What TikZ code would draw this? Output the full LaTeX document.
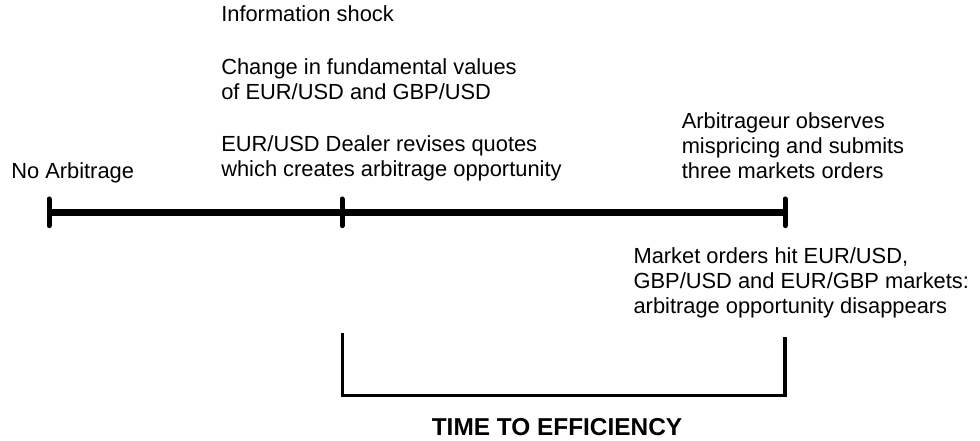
\documentclass[tikz,border=0pt]{standalone}
\usepackage{fontspec}
\setmainfont{Liberation Sans}
\usetikzlibrary{positioning}

\begin{document}
\begin{tikzpicture}[x=0.75pt,y=-0.75pt,
  txt/.style={anchor=base west,inner sep=0pt,align=left,font=\fontsize{16.4}{18.75}\selectfont},
  timeline/.style={line width=5.6pt},
  tickmark/.style={line width=3.75pt,line cap=round},
  span/.style={line width=2.5pt}]
  \useasboundingbox (0,0) rectangle (980,441);

  % the time axis and its three events
  \coordinate (t0) at (49,212.3);
  \coordinate (t1) at (342,212.3);
  \coordinate (t2) at (785,212.3);
  \draw[timeline] (t0) -- (t2);
  \foreach \t in {t0,t1,t2}
    \draw[tickmark] ([yshift=10pt]\t) -- ([yshift=-10pt]\t);

  % labels sit on the baseline of their last line
  \node[txt] (noarb) at (11,178.3) {No Arbitrage};
  \node[txt] (shock) at (221,21.7) {Information shock};
  \node[txt] (fund) at (221,100) {Change in fundamental values\\of EUR/USD and GBP/USD};
  \node[txt] (dealer) at (221,176.7) {EUR/USD Dealer revises quotes\\which creates arbitrage opportunity};
  \node[txt] (observe) at (681.5,178.3) {Arbitrageur observes\\mispricing and submits\\three markets orders};
  \node[txt] (hit) at (633.3,313.3) {Market orders hit EUR/USD,\\GBP/USD and EUR/GBP markets:\\arbitrage opportunity disappears};

  % bracket under the delay
  \coordinate (s0) at (342.7,333);
  \coordinate (s1) at (785,337.3);
  \coordinate (b0) at (342.7,395.5);
  \coordinate (b1) at (785,395.5);
  \draw[span] (s0) -- (b0) -- (b1) -- (s1);
  \node[anchor=base,inner sep=0pt,font=\fontsize{18.3}{22}\selectfont\bfseries] (eff) at (557,435) {TIME TO EFFICIENCY};
\end{tikzpicture}
\end{document}
